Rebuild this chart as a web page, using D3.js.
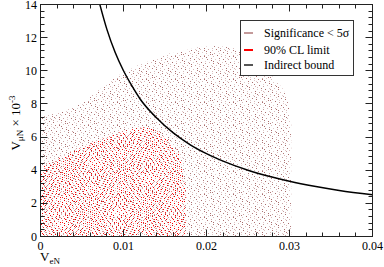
<!DOCTYPE html>
<meta charset="utf-8">
<style>
body { margin: 0; background: #fff; }
text { font-family: "Liberation Serif", "Times New Roman", serif; fill: #000; }
.frame { fill: none; stroke: #222; stroke-width: 1px; }
</style>
<svg width="384" height="267"></svg>
<script src="https://d3js.org/d3.v7.min.js"></script>
<script>
// values (V_muN in units of 1e-3)
var boundX = [0.00715, 0.008, 0.009, 0.010, 0.011, 0.012, 0.014, 0.016, 0.018, 0.020, 0.022, 0.025, 0.028, 0.030, 0.033, 0.036, 0.040];
var boundY = [14.0, 12.5, 11.1, 10.0, 9.1, 8.3, 7.15, 6.25, 5.55, 5.0, 4.55, 4.0, 3.57, 3.33, 3.03, 2.78, 2.52];

// upper edge of the "significance < 5 sigma" scatter
var sigX = [0, 0.0024, 0.0048, 0.0072, 0.0092, 0.0112, 0.0132, 0.0153, 0.0172, 0.0190, 0.0205, 0.0223, 0.0250, 0.0270, 0.0282, 0.0297, 0.0302];
var sigY = [7.25, 7.5, 8.0, 8.9, 9.65, 10.2, 10.6, 11.0, 11.2, 11.4, 11.5, 11.45, 10.9, 10.1, 9.5, 8.3, 7.0];

// upper edge of the 90% CL scatter
var clX = [0, 0.0003, 0.0027, 0.0048, 0.0068, 0.0088, 0.0108, 0.0126, 0.0138, 0.0148, 0.0160, 0.0168, 0.0172, 0.0175];
var clY = [4.2, 4.25, 4.85, 5.37, 5.75, 6.15, 6.45, 6.6, 6.5, 6.05, 5.45, 4.85, 3.6, 3.0];

var xTicks = [0, 0.01, 0.02, 0.03, 0.04];
var xTickLabels = ["0", "0.01", "0.02", "0.03", "0.04"];
var yTicks = [0, 2, 4, 6, 8, 10, 12, 14];

var legendLabels = ["Significance < 5\u03c3", "90% CL limit", "Indirect bound"];
var legendColors = ["#c49a9a", "#ff0000", "#555555"];

var svg = d3.select("svg");
var pL = 40.5, pR = 372.5, pT = 4.5, pB = 236.5;

var x = d3.scaleLinear().domain([0, 0.04]).range([pL, pR]);
var y = d3.scaleLinear().domain([0, 14]).range([pB, pT]);

var defs = svg.append("defs");

// dotted texture for the scatter regions
function dotPattern(id, w, h, n, colors, seed) {
  var p = defs.append("pattern")
      .attr("id", id)
      .attr("patternUnits", "userSpaceOnUse")
      .attr("width", w)
      .attr("height", h);
  var a1 = 0.7548776662, a2 = 0.5698402910;
  for (var i = 0; i < n; i++) {
    var k = i + seed;
    var px = Math.floor(((0.5 + a1 * k) % 1) * w);
    var py = Math.floor(((0.5 + a2 * k) % 1) * h);
    var c = colors[(k * 7) % colors.length];
    p.append("rect")
        .attr("x", px).attr("y", py)
        .attr("width", 1).attr("height", 1)
        .attr("fill", c);
  }
}
dotPattern("sigDots", 29, 23, 78, ["#b07878", "#c8a0a0", "#d8b8b8", "#a86c6c", "#e0c8c8"], 3);
dotPattern("clDots", 27, 25, 92, ["#ff0000", "#ff2020", "#ff8080", "#ff0000", "#f4a0a0", "#e80000"], 11);

defs.append("clipPath").attr("id", "plotClip")
  .append("rect")
    .attr("x", pL).attr("y", pT)
    .attr("width", pR - pL).attr("height", pB - pT);

var plot = svg.append("g").attr("clip-path", "url(#plotClip)");

var area = d3.area()
    .x(function(d) { return x(d[0]); })
    .y0(y(0))
    .y1(function(d) { return y(d[1]); })
    .curve(d3.curveMonotoneX);

plot.append("path")
    .datum(d3.zip(sigX, sigY))
    .attr("d", area)
    .attr("fill", "url(#sigDots)");

plot.append("path")
    .datum(d3.zip(clX, clY))
    .attr("d", area)
    .attr("fill", "url(#clDots)");

var line = d3.line()
    .x(function(d) { return x(d[0]); })
    .y(function(d) { return y(d[1]); })
    .curve(d3.curveMonotoneX);

plot.append("path")
    .datum(d3.zip(boundX, boundY))
    .attr("d", line)
    .attr("fill", "none")
    .attr("stroke", "#000")
    .attr("stroke-width", 1.5);

// ticks on all four sides, pointing inward
var xMinor = d3.range(0, 21).map(function(i) { return i * 0.002; });
var yMinor = d3.range(0, 36).map(function(i) { return i * 0.4; });

var ticks = svg.append("g").attr("stroke", "#222").attr("stroke-width", 1);
xMinor.forEach(function(v) {
  var major = Math.abs(v / 0.01 - Math.round(v / 0.01)) < 1e-6;
  var len = major ? 7 : 4;
  var px = Math.round(x(v) - 0.5) + 0.5;
  ticks.append("line").attr("x1", px).attr("x2", px).attr("y1", pB).attr("y2", pB - len);
  ticks.append("line").attr("x1", px).attr("x2", px).attr("y1", pT).attr("y2", pT + len);
});
yMinor.forEach(function(v) {
  var major = Math.abs(v / 2 - Math.round(v / 2)) < 1e-6;
  var len = major ? 7 : 4;
  var py = Math.round(y(v) - 0.5) + 0.5;
  ticks.append("line").attr("y1", py).attr("y2", py).attr("x1", pL).attr("x2", pL + len);
  ticks.append("line").attr("y1", py).attr("y2", py).attr("x1", pR).attr("x2", pR - len);
});

svg.append("rect")
    .attr("class", "frame")
    .attr("x", pL).attr("y", pT)
    .attr("width", pR - pL).attr("height", pB - pT);

// tick labels
svg.append("g").selectAll("text")
  .data(xTicks)
  .enter().append("text")
    .attr("x", function(d) { return x(d); })
    .attr("y", 250)
    .attr("text-anchor", "middle")
    .attr("font-size", 12)
    .text(function(d, i) { return xTickLabels[i]; });

svg.append("g").selectAll("text")
  .data(yTicks)
  .enter().append("text")
    .attr("x", 37)
    .attr("y", function(d) { return y(d) + 4; })
    .attr("text-anchor", "end")
    .attr("font-size", 12)
    .text(function(d) { return d; });

// axis titles
var xt = svg.append("text").attr("x", 40).attr("y", 261).attr("font-size", 13);
xt.append("tspan").text("V");
xt.append("tspan").attr("dy", 3).attr("font-size", 9).text("eN");

var yt = svg.append("text")
    .attr("transform", "translate(20,123) rotate(-90)")
    .attr("text-anchor", "middle")
    .attr("font-size", 13);
yt.append("tspan").text("V");
yt.append("tspan").attr("dy", 3).attr("font-size", 9).text("\u03bcN");
yt.append("tspan").attr("dy", -3).text(" \u00d7 10");
yt.append("tspan").attr("dy", -5).attr("font-size", 9).text("-3");

// legend
var lg = svg.append("g");
lg.append("rect")
    .attr("x", 240.5).attr("y", 20.5)
    .attr("width", 113).attr("height", 55)
    .attr("fill", "#fff")
    .attr("stroke", "#333");

var entry = lg.selectAll("g.entry")
  .data(legendLabels)
  .enter().append("g")
    .attr("class", "entry")
    .attr("transform", function(d, i) { return "translate(0," + [33, 50, 65][i] + ")"; });
entry.append("line")
    .attr("x1", 244).attr("x2", 253)
    .attr("stroke", function(d, i) { return legendColors[i]; })
    .attr("stroke-width", 2);
entry.append("text")
    .attr("x", 264).attr("y", 4)
    .attr("font-size", 12)
    .text(function(d) { return d; });
</script>
